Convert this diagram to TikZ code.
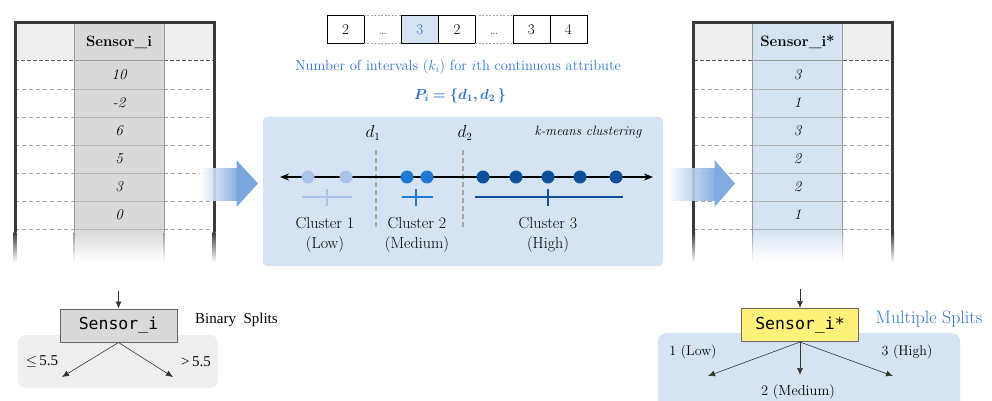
\documentclass[tikz,border=0pt]{standalone}
\usepackage{fontspec}
\usepackage{bm}
\usetikzlibrary{arrows.meta}
\newfontfamily\codefont{DejaVu Sans Mono}
\newfontfamily\timesfont{Liberation Serif}
\definecolor{hdrgray}{HTML}{EFEFEF}
\definecolor{colgray}{HTML}{D9D9D9}
\definecolor{lblue}{HTML}{D6E3F3}
\definecolor{arrblue}{HTML}{7BA7DE}
\definecolor{txtblue}{HTML}{2F74CC}
\definecolor{pblue}{HTML}{2A6FC2}
\definecolor{cA}{HTML}{A9C4E8}
\definecolor{cB}{HTML}{1F78D1}
\definecolor{cC}{HTML}{0E4F9B}
\definecolor{yel}{HTML}{FFF27A}
\definecolor{bord}{HTML}{3A3A3A}
\begin{document}
\begin{tikzpicture}[x=1pt,y=-1pt,
  fs/.style={font=\fontsize{#1}{#1}\selectfont},
  tval/.style={font=\fontsize{15}{15}\selectfont\itshape, inner sep=0pt},
  thdr/.style={font=\fontsize{15}{15}\selectfont\bfseries, inner sep=0pt},
  seqbox/.style={minimum width=37.14pt, minimum height=28pt, inner sep=0pt, text height=10.5pt, text depth=0pt, font=\fontsize{15}{15}\selectfont},
  dot/.style={circle, minimum size=13pt, inner sep=0pt},
  crossline/.style={line width=2.6pt},
  sep/.style={dashed, draw=gray!70, line width=2pt, dash pattern=on 5pt off 3pt},
  clab/.style={font=\fontsize{16}{20}\selectfont, align=center, inner sep=0pt},
  treearrow/.style={-{Latex[length=7pt,width=6pt]}, draw=black!80, line width=0.6pt},
  splitlab/.style={font=\timesfont\fontsize{15}{15}\selectfont, inner sep=0pt},
  tree/.style={draw=gray!80!black, line width=1pt, minimum width=117pt, minimum height=33pt, inner sep=0pt, font=\codefont\fontsize{16.5}{16.5}\selectfont}
]
\useasboundingbox (0,0) rectangle (992,401);

% ---------- tables ----------
\foreach \dx/\cf/\hd/\vals/\nm in {0/colgray/Sensor\_i/{10,-2,6,5,3,0}/L, 678.5/lblue/Sensor\_i*/{3,1,3,2,2,1}/R}{
  \begin{scope}[xshift=\dx]
    \fill[hdrgray] (15,23) rectangle (214,60);
    \fill[\cf] (74,23) rectangle (164,229);
    \shade[top color=\cf, bottom color=white] (74,229) rectangle (164,262);
    \foreach \yy in {89,117,145,173,201,229}{
      \draw[gray!70, dashed, dash pattern=on 4pt off 3pt, line width=0.7pt] (15,\yy) -- (74,\yy) (164,\yy) -- (214,\yy);
      \draw[gray!60, line width=0.8pt] (74,\yy) -- (164,\yy);
    }
    \draw[black!65, dashed, dash pattern=on 4pt off 2pt, line width=0.9pt] (15,60) -- (74,60) (164,60) -- (214,60);
    \draw[gray!80, line width=0.9pt] (74,60) -- (164,60);
    \draw[gray!80, line width=0.9pt] (74,23) -- (74,232) (164,23) -- (164,232);
    \shade[top color=gray!80, bottom color=white] (73.5,232) rectangle (74.5,262);
    \shade[top color=gray!80, bottom color=white] (163.5,232) rectangle (164.5,262);
    \fill[bord] (13.5,21.5) rectangle (215.5,24.5);
    \fill[bord] (13.5,21.5) rectangle (16.5,232);
    \fill[bord] (212.5,21.5) rectangle (215.5,232);
    \shade[top color=bord, bottom color=white] (13.5,232) rectangle (16.5,262);
    \shade[top color=bord, bottom color=white] (212.5,232) rectangle (215.5,262);
    \node[thdr] (hdr\nm) at (119,42) {\hd};
    \foreach \v [count=\k] in \vals {
      \node[tval] (v\nm\k) at (119,{47+28*\k}) {\v};
    }
  \end{scope}
}

% ---------- big arrows ----------
\shade[left color=white, right color=arrblue, opacity=0.9] (200,168) rectangle (237,200);
\fill[arrblue] (236.5,160) -- (258,183.5) -- (236.5,207) -- cycle;
\shade[left color=white, right color=arrblue, opacity=0.9] (667,168) rectangle (715,200);
\fill[arrblue, opacity=0.95] (714.5,160) -- (735,183.5) -- (714.5,207) -- cycle;

% ---------- sequence ----------
\node[seqbox, draw] (s1) at (345.6,29) {2};
\node[seqbox, text=black!70] (s2) at (382.7,29) {\dots};
\node[seqbox, draw, fill=lblue, text=txtblue] (s3) at (419.9,29) {3};
\node[seqbox, draw] (s4) at (457.0,29) {2};
\node[seqbox, text=black!70] (s5) at (494.1,29) {\dots};
\node[seqbox, draw] (s6) at (531.3,29) {3};
\node[seqbox, draw] (s7) at (568.4,29) {4};
\draw[gray!70, dashed, dash pattern=on 2pt off 1.5pt] (s2.north west) -- (s2.north east) (s2.south west) -- (s2.south east)
  (s5.north west) -- (s5.north east) (s5.south west) -- (s5.south east);

\node[fs=14.5, text=txtblue] (numint) at (458,67) {Number of intervals ($k_i$) for $i$th continuous attribute};
\node[fs=14.5, text=pblue] (pset) at (460,96) {$\bm{P_i = \{d_1, d_2\,\}}$};

% ---------- k-means box ----------
\fill[lblue, rounded corners=4pt] (263,117) rectangle (663,266);
\node[font=\fontsize{13.5}{13.5}\selectfont\itshape, anchor=east] (km) at (645,132) {k-means clustering};
\node[fs=16] (d1) at (373,133) {$d_1$};
\node[fs=16] (d2) at (465,133) {$d_2$};
\coordinate (d1t) at (376,150); \coordinate (d1b) at (376,228);
\coordinate (d2t) at (463,150); \coordinate (d2b) at (463,228);
\draw[sep] (d1t) -- (d1b);
\draw[sep] (d2t) -- (d2b);
\coordinate (axL) at (280,177); \coordinate (axR) at (653,177);
\draw[{Stealth[length=9pt,width=7pt]}-{Stealth[length=9pt,width=7pt]}, line width=1.8pt] (axL) -- (axR);
\foreach \px/\c [count=\i] in {308/cA,346/cA,407/cB,427/cB,483/cC,516/cC,548/cC,580/cC,616/cC}{
  \node[dot, fill=\c] (p\i) at (\px,177) {};
}
\draw[crossline, cA] (302,197) -- (352,197) (327,189) -- (327,206);
\draw[crossline, cB] (402,197) -- (433,197) (416,189) -- (416,206);
\draw[crossline, cC] (475,197) -- (623,197) (548,189) -- (548,206);
\node[clab] (c1) at (325,235) {Cluster 1\\(Low)};
\node[clab] (c2) at (417,235) {Cluster 2\\(Medium)};
\node[clab] (c3) at (548,235) {Cluster 3\\(High)};

% ---------- binary split ----------
\fill[hdrgray, rounded corners=8pt] (18,335) rectangle (218,388);
\node[tree, fill=colgray] (bs) at (118.5,325.5) {Sensor\_i};
\coordinate (bsin) at (118.5,291);
\coordinate (bsl) at (62,377);
\coordinate (bsr) at (173,377);
\draw[treearrow] (bsin) -- (bs.north);
\draw[treearrow] (bs.south) -- (bsl);
\draw[treearrow] (bs.south) -- (bsr);
\node[splitlab] (le) at (42,362) {$\leq$\,5.5};
\node[splitlab] (gt) at (196,362) {>\,5.5};
\node[splitlab, anchor=west] (binlab) at (195,320) {Binary\ \ Splits};

% ---------- multiple split ----------
\fill[lblue, rounded corners=8pt] (658,333) rectangle (960,410);
\node[tree, fill=yel] (ms) at (800,325) {Sensor\_i*};
\coordinate (msin) at (800,289);
\coordinate (msl) at (708,376);
\coordinate (msm) at (800,375);
\coordinate (msr) at (893,376);
\draw[treearrow] (msin) -- (ms.north);
\draw[treearrow] (ms.south) -- (msl);
\draw[treearrow] (ms.south) -- (msm);
\draw[treearrow] (ms.south) -- (msr);
\node[fs=14] (lo) at (693,352) {1 (Low)};
\node[fs=14.5] (me) at (798,392) {2 (Medium)};
\node[fs=14] (hi) at (907,352) {3 (High)};
\node[fs=18, text=txtblue] (mlab) at (929,319) {Multiple Splits};
\end{tikzpicture}
\end{document}
